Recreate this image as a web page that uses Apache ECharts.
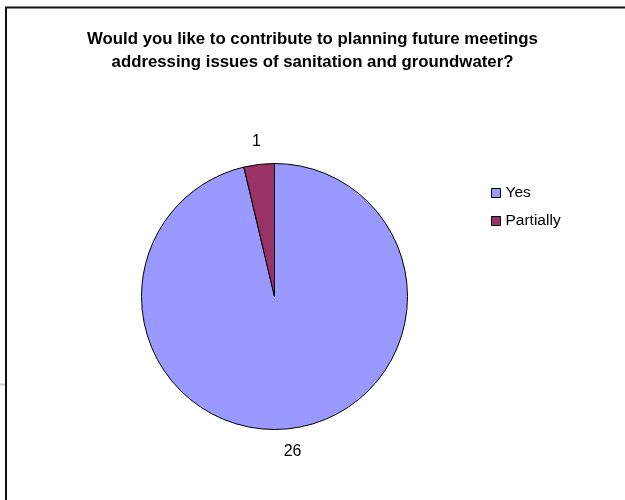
<!DOCTYPE html>
<html>
<head>
<meta charset="utf-8">
<script src="https://cdn.jsdelivr.net/npm/echarts@6/dist/echarts.min.js"></script>
<style>
  html, body { margin: 0; padding: 0; background: #fff; }
  #chart { width: 625px; height: 500px; }
</style>
</head>
<body>
<div id="chart"></div>
<script>
// Survey answers
const categories = ['Yes', 'Partially'];
const counts = [26, 1];
const sliceColors = ['#9999FF', '#993366'];

const titleText = 'Would you like to contribute to planning future meetings\naddressing issues of sanitation and groundwater?';

const pieCenter = [274.5, 296.5];
const pieRadius = 133;

const pieData = categories.map((name, i) => ({
  name: name,
  value: counts[i],
  itemStyle: { color: sliceColors[i] }
}));

const chart = echarts.init(document.getElementById('chart'), null, { renderer: 'canvas' });

chart.setOption({
  animation: false,
  backgroundColor: '#ffffff',
  title: {
    text: titleText,
    left: 'center',
    top: 23,
    textStyle: {
      fontFamily: 'Liberation Sans, Arial, sans-serif',
      fontSize: 16.8,
      fontWeight: 'bold',
      color: '#000',
      lineHeight: 23
    }
  },
  legend: {
    data: categories,
    orient: 'vertical',
    left: 486,
    top: 180,
    itemWidth: 9,
    itemHeight: 9,
    itemGap: 12,
    icon: 'rect',
    itemStyle: { borderColor: '#000', borderWidth: 1 },
    textStyle: {
      fontFamily: 'Liberation Sans, Arial, sans-serif',
      fontSize: 15.5,
      color: '#000'
    },
    selectedMode: false
  },
  series: [
    {
      name: 'answers',
      type: 'pie',
      center: pieCenter,
      radius: pieRadius,
      startAngle: 90,
      clockwise: true,
      data: pieData,
      itemStyle: { borderColor: '#000', borderWidth: 1 },
      label: { show: false },
      labelLine: { show: false },
      emphasis: { disabled: true }
    },
    {
      // transparent ring just outside the pie carrying the value labels
      name: 'values',
      type: 'pie',
      center: pieCenter,
      radius: [pieRadius + 12, pieRadius + 28],
      startAngle: 90,
      clockwise: true,
      silent: true,
      data: pieData.map(d => ({ name: d.name, value: d.value })),
      itemStyle: { color: 'rgba(0,0,0,0)', borderWidth: 0 },
      label: {
        show: true,
        position: 'inside',
        formatter: '{c}',
        fontFamily: 'Liberation Sans, Arial, sans-serif',
        fontSize: 16,
        color: '#000'
      },
      labelLine: { show: false },
      emphasis: { disabled: true }
    }
  ],
  graphic: [
    {
      type: 'rect',
      silent: true,
      shape: { x: 6, y: 7.5, width: 640, height: 520 },
      style: { fill: 'none', stroke: '#111', lineWidth: 2 }
    },
    {
      type: 'line',
      silent: true,
      shape: { x1: 0, y1: 384.5, x2: 5, y2: 384.5 },
      style: { stroke: '#cccccc', lineWidth: 2 }
    }
  ]
});
</script>
</body>
</html>
